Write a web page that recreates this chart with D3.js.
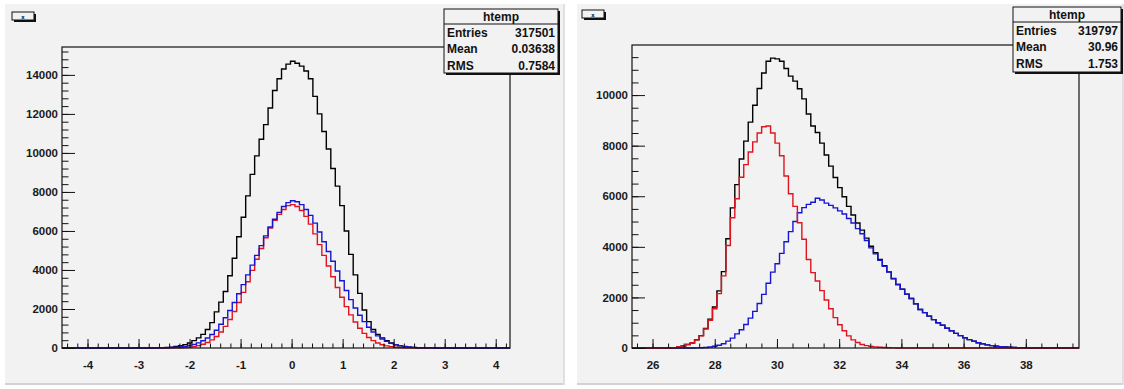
<!DOCTYPE html>
<html><head><meta charset="utf-8">
<script src="https://cdn.jsdelivr.net/npm/d3@7"></script>
<style>html,body{margin:0;padding:0;background:#fff;}svg{display:block;}</style>
</head><body>
<svg id="c" width="1124" height="389"></svg>
<script>
// ---------- data ----------
const statTitle = "htemp";
const statLabels = ["Entries", "Mean", "RMS"];
const leftStats = ["317501", "0.03638", "0.7584"];
const rightStats = ["319797", "30.96", "1.753"];
const padTitle = "x";

const leftXDomain = [-4.5, 4.28];
const leftYMax = 15430;
const leftXMajor = [-4, -3, -2, -1, 0, 1, 2, 3, 4];
const leftXMinorStep = 0.2;
const leftYMajor = [0, 2000, 4000, 6000, 8000, 10000, 12000, 14000];
const leftYMinorStep = 400;
const leftBlack = [0,0,0,0,0,0,0,0,0,0,0,0,0,0,0,0,0,0,0,0,
  4,8,15,28,45,75,115,175,260,380,520,700,950,1300,1850,2350,2900,3700,4600,5700,
  6700,7800,8900,9850,10700,11450,12300,13200,13800,14300,14550,14700,14600,14450,14200,13800,12900,12000,11100,10200,
  9200,8300,7300,6000,4800,3750,2800,1950,1350,950,700,520,380,260,170,110,70,40,25,12,
  6,3,0,0,0,0,0,0,0,0,0,0,0,0,0,0,0,0,0,0];
const leftRed = [0,0,0,0,0,0,0,0,0,0,0,0,0,0,0,0,0,0,0,0,
  0,0,0,2,4,8,15,26,45,75,120,190,285,415,590,820,1110,1460,1870,2330,
  2850,3400,3980,4550,5100,5650,6150,6550,6850,7100,7300,7350,7250,7050,6750,6350,5850,5300,4750,4200,
  3650,3100,2600,2120,1700,1330,1010,750,540,380,260,170,110,70,42,25,14,8,4,2,
  0,0,0,0,0,0,0,0,0,0,0,0,0,0,0,0,0,0,0,0];
const leftBlue = [0,0,0,0,0,0,0,0,0,0,0,0,0,0,0,0,0,0,0,0,
  2,4,8,13,22,35,55,85,125,185,265,370,510,690,910,1220,1550,1920,2330,2780,
  3250,3750,4250,4750,5250,5750,6200,6600,6950,7250,7450,7550,7500,7350,7100,6800,6400,5950,5450,4950,
  4450,3950,3450,2950,2480,2050,1680,1350,1060,820,620,460,340,245,175,120,80,52,33,20,
  12,7,4,2,0,0,0,0,0,0,0,0,0,0,0,0,0,0,0,0];

const rightXDomain = [25.34, 39.71];
const rightYMax = 11980;
const rightXMajor = [26, 28, 30, 32, 34, 36, 38];
const rightXMinorStep = 0.5;
const rightYMajor = [0, 2000, 4000, 6000, 8000, 10000];
const rightYMinorStep = 500;
const rightBlack = [0,0,0,0,0,0,0,0,0,15,
  40,80,140,200,325,490,770,1140,1620,2260,
  3020,4320,5540,6460,7470,8180,8930,9600,10260,10870,
  11340,11460,11430,11340,11050,10750,10550,10250,9850,9250,
  8780,8520,8100,7630,7190,6740,6340,5980,5600,5260,
  4940,4660,4345,4025,3765,3500,3250,3010,2745,2512,
  2320,2130,1960,1750,1520,1400,1260,1120,1000,900,
  780,680,580,490,400,330,270,210,165,125,
  95,70,50,38,28,20,12,6,3,0,
  0,0,0,0,0,0,0,0,0,0];
const rightRed = [0,0,0,0,0,0,0,0,0,15,
  40,80,140,200,320,480,750,1100,1550,2150,
  2850,4050,5150,5900,6750,7250,7750,8150,8500,8750,
  8780,8500,8100,7600,6800,6100,5600,4950,4300,3500,
  2980,2650,2270,1900,1550,1200,920,680,480,320,
  220,140,95,65,45,30,20,10,5,2,
  0,0,0,0,0,0,0,0,0,0,
  0,0,0,0,0,0,0,0,0,0,
  0,0,0,0,0,0,0,0,0,0,
  0,0,0,0,0,0,0,0,0,0];
const rightBlue = [0,0,0,0,0,0,0,0,0,0,
  0,0,0,0,5,10,20,40,70,110,
  170,270,390,560,720,930,1180,1450,1760,2120,
  2560,3000,3330,3740,4200,4600,5000,5350,5550,5680,
  5760,5920,5850,5730,5640,5540,5420,5300,5120,4940,
  4720,4520,4250,3960,3720,3470,3230,3000,2740,2510,
  2320,2130,1960,1750,1520,1400,1260,1120,1000,900,
  780,680,580,490,400,330,270,210,165,125,
  95,70,50,38,28,20,12,6,3,0,
  0,0,0,0,0,0,0,0,0,0];

// ---------- drawing ----------
const svg = d3.select("#c");
const FONT = "'Liberation Sans', Arial, Helvetica, sans-serif";
const BG = "#f2f2f2";
const RED = "#e0141e", BLUE = "#1616d2", BLACK = "#000";

function drawPanel(o) {
  const g = svg.append("g");
  // canvas
  g.append("rect").attr("x", o.cx).attr("y", o.cy).attr("width", o.cw).attr("height", o.ch).attr("fill", BG);
  g.append("line").attr("x1", o.cx).attr("x2", o.cx + o.cw).attr("y1", o.cy + o.ch - 1).attr("y2", o.cy + o.ch - 1)
    .attr("stroke", "#d2d2d2").attr("stroke-width", 2);
  g.append("line").attr("x1", o.cx + o.cw - 1).attr("x2", o.cx + o.cw - 1).attr("y1", o.cy).attr("y2", o.cy + o.ch)
    .attr("stroke", "#e0e0e0").attr("stroke-width", 2);

  const x = d3.scaleLinear().domain(o.xDomain).range([o.fx0, o.fx1]);
  const y = d3.scaleLinear().domain([0, o.yMax]).range([o.fy1, o.fy0]);

  // histograms
  const line = d3.line().x(d => x(d[0])).y(d => y(d[1])).curve(d3.curveStepAfter);
  o.series.forEach(s => {
    const n = s.values.length;
    const w = (o.xDomain[1] - o.xDomain[0]) / n;
    const pts = s.values.map((v, i) => [o.xDomain[0] + i * w, v]);
    pts.push([o.xDomain[1], s.values[n - 1]]);
    g.append("path").attr("d", line(pts)).attr("fill", "none").attr("stroke", s.color)
      .attr("stroke-width", 1.4).attr("stroke-linejoin", "miter");
  });

  // minor ticks
  const xMin = [];
  for (let v = Math.ceil(o.xDomain[0] / o.xMinorStep) * o.xMinorStep; v <= o.xDomain[1] + 1e-9; v += o.xMinorStep) xMin.push(+v.toFixed(4));
  const yMin = [];
  for (let v = 0; v <= o.yMax; v += o.yMinorStep) yMin.push(v);

  const plain = d => String(d);
  const styleAxis = sel => {
    sel.select(".domain").remove();
    sel.selectAll("line").attr("stroke", "#111").attr("stroke-width", 1);
    sel.selectAll("text").attr("font-family", FONT).attr("font-size", "11.5px")
      .attr("font-weight", "bold").attr("fill", "#1a1a1a");
  };
  g.append("g").attr("transform", `translate(0,${o.fy1})`)
    .call(d3.axisBottom(x).tickValues(xMin).tickSize(-4.5).tickFormat(""))
    .call(styleAxis);
  g.append("g").attr("transform", `translate(0,${o.fy1})`)
    .call(d3.axisBottom(x).tickValues(o.xMajor).tickSize(-9).tickPadding(13).tickFormat(plain))
    .call(styleAxis);
  g.append("g").attr("transform", `translate(${o.fx0},0)`)
    .call(d3.axisLeft(y).tickValues(yMin).tickSize(-6.5).tickFormat(""))
    .call(styleAxis);
  g.append("g").attr("transform", `translate(${o.fx0},0)`)
    .call(d3.axisLeft(y).tickValues(o.yMajor).tickSize(-13).tickPadding(4).tickFormat(plain))
    .call(styleAxis);

  // frame
  g.append("rect").attr("x", o.fx0).attr("y", o.fy0).attr("width", o.fx1 - o.fx0).attr("height", o.fy1 - o.fy0)
    .attr("fill", "none").attr("stroke", "#111").attr("stroke-width", 1.2);

  // pad title box
  g.append("rect").attr("x", o.tx + 2).attr("y", o.ty + 2).attr("width", 22).attr("height", 8).attr("fill", "#111");
  g.append("rect").attr("x", o.tx).attr("y", o.ty).attr("width", 22).attr("height", 8).attr("fill", BG)
    .attr("stroke", "#111").attr("stroke-width", 1);
  g.append("text").attr("x", o.tx + 11).attr("y", o.ty + 6.5).attr("text-anchor", "middle")
    .attr("font-family", FONT).attr("font-size", "6px").attr("font-weight", "bold").text(padTitle);

  // stats box
  const sb = o.stats;
  g.append("rect").attr("x", sb.x + 2).attr("y", sb.y + 2).attr("width", sb.w).attr("height", sb.h).attr("fill", "#111");
  g.append("rect").attr("x", sb.x).attr("y", sb.y).attr("width", sb.w).attr("height", sb.h).attr("fill", BG)
    .attr("stroke", "#111").attr("stroke-width", 1);
  g.append("line").attr("x1", sb.x).attr("x2", sb.x + sb.w).attr("y1", sb.y + 15).attr("y2", sb.y + 15)
    .attr("stroke", "#111").attr("stroke-width", 1);
  const txt = (xx, yy, s, anchor) => g.append("text").attr("x", xx).attr("y", yy).attr("text-anchor", anchor)
    .attr("font-family", FONT).attr("font-size", "12px").attr("font-weight", "bold").attr("fill", "#111").text(s);
  txt(sb.x + sb.w / 2, sb.y + 12, statTitle, "middle");
  statLabels.forEach((lab, i) => {
    const yy = sb.y + 28 + i * 16.3;
    txt(sb.x + 3, yy, lab, "start");
    txt(sb.x + sb.w - 3, yy, o.statValues[i], "end");
  });
}

drawPanel({
  cx: 5, cy: 4, cw: 560, ch: 381,
  fx0: 62, fx1: 510, fy0: 47, fy1: 348,
  xDomain: leftXDomain, yMax: leftYMax,
  xMajor: leftXMajor, xMinorStep: leftXMinorStep,
  yMajor: leftYMajor, yMinorStep: leftYMinorStep,
  series: [{values: leftBlack, color: BLACK}, {values: leftRed, color: RED}, {values: leftBlue, color: BLUE}],
  tx: 12, ty: 12,
  stats: {x: 444, y: 9, w: 114, h: 64},
  statValues: leftStats
});
drawPanel({
  cx: 577, cy: 4, cw: 547, ch: 381,
  fx0: 632, fx1: 1079, fy0: 45, fy1: 348,
  xDomain: rightXDomain, yMax: rightYMax,
  xMajor: rightXMajor, xMinorStep: rightXMinorStep,
  yMajor: rightYMajor, yMinorStep: rightYMinorStep,
  series: [{values: rightBlack, color: BLACK}, {values: rightBlue, color: BLUE}, {values: rightRed, color: RED}],
  tx: 582, ty: 10,
  stats: {x: 1013, y: 7, w: 108, h: 65},
  statValues: rightStats
});
</script>
</body></html>
